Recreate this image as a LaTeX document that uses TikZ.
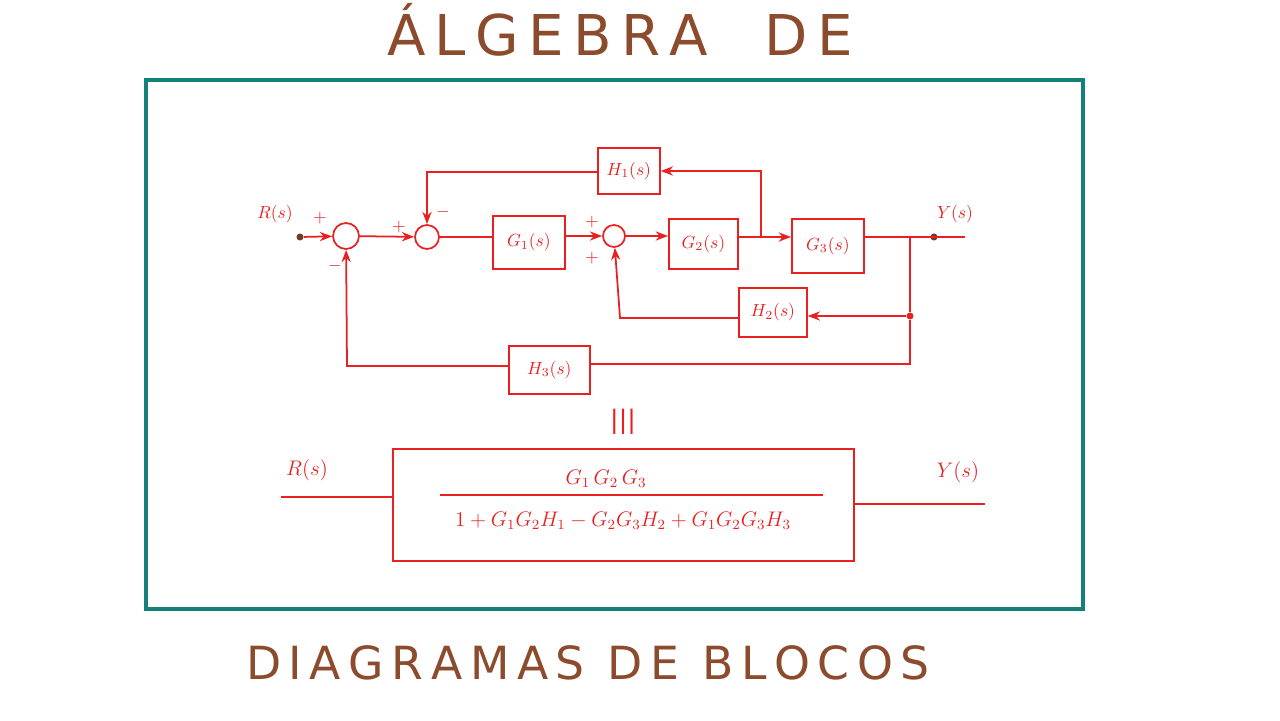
\documentclass[tikz,border=0pt]{standalone}
\usepackage{fontspec}
\setmainfont{DejaVu Sans}
\usetikzlibrary{arrows.meta}
\definecolor{rd}{RGB}{232,32,32}
\definecolor{tl}{RGB}{20,128,120}
\definecolor{br}{RGB}{140,75,45}
\begin{document}
\begin{tikzpicture}[x=0.02cm,y=-0.02cm,
  blk/.style={draw=rd,line width=1pt,text=rd,anchor=north west,inner sep=0pt},
  sum/.style={circle,draw=rd,line width=1pt,inner sep=0pt},
  ln/.style={draw=rd,line width=1pt},
  ar/.style={ln,-{Stealth[length=7pt]}},
  lb/.style={text=rd,font=\normalsize},
  dot/.style={circle,fill=rd,inner sep=0pt,minimum size=4pt}]
\useasboundingbox (0,0) rectangle (1280,720);
\draw[tl,line width=2pt] (146,80) rectangle (1083,609);
\node[text=br,font=\fontsize{32}{32}\selectfont] (t1) at (620,30) {Á\,L\,G\,E\,B\,R\,A\quad D\,E};
\node[text=br,font=\fontsize{26}{26}\selectfont] (t2) at (588,663) {D\,I\,A\,G\,R\,A\,M\,A\,S\enspace D\,E\enspace B\,L\,O\,C\,O\,S};
% blocks
\node[blk,minimum width=1.44cm,minimum height=1.06cm] (g1) at (492,215) {};
\node[lb] at (g1.center) {$G_1(s)$};
\node[blk,minimum width=1.38cm,minimum height=1.0cm] (g2) at (668,218) {};
\node[lb] at (g2.center) {$G_2(s)$};
\node[blk,minimum width=1.44cm,minimum height=1.08cm] (g3) at (791,218) {};
\node[lb] at (g3.center) {$G_3(s)$};
\node[blk,minimum width=1.24cm,minimum height=0.92cm] (h1) at (597,147) {};
\node[lb] at (h1.center) {$H_1(s)$};
\node[blk,minimum width=1.36cm,minimum height=0.98cm] (h2) at (738,287) {};
\node[lb] at (h2.center) {$H_2(s)$};
\node[blk,minimum width=1.62cm,minimum height=0.96cm] (h3) at (508,345) {};
\node[lb] at (h3.center) {$H_3(s)$};
\node[sum,minimum size=0.52cm] (s1) at (346,236) {};
\node[sum,minimum size=0.48cm] (s2) at (427,237) {};
\node[sum,minimum size=0.44cm] (s3) at (614,236) {};
\node[dot,fill=br!80!black] (in) at (300,237) {};
\node[dot,fill=br!80!black] (out) at (934,237) {};
\coordinate (oend) at (965,237);
\coordinate (b1) at (761,237);
\coordinate (b2) at (910,237);
\node[dot] (b3) at (910,316) {};
\node[lb] (rl) at (275,214) {$R(s)$};
\node[lb] (yl) at (955,214) {$Y(s)$};
% forward path
\draw[ar] (in) -- (s1);
\draw[ar] (s1) -- (s2);
\draw[ln] (s2) -- (g1.west |- s2);
\draw[ar] (g1.east |- s3) -- (s3);
\draw[ar] (s3) -- (g2.west |- s3);
\draw[ar] (g2.east |- b1) -- (g3.west |- b1);
\draw[ln] (g3.east |- b2) -- (oend);
% loops
\draw[ar] (b1) -- (761,171) -- (h1.east |- 0,171);
\draw[ar] (h1.west |- 0,172) -- (427,172) -- (s2);
\draw[ln] (b2) -- (b3);
\draw[ar] (b3) -- (h2.east |- b3);
\draw[ar] (h2.west |- 0,318) -- (620,318) -- (s3);
\draw[ln] (b3) -- (910,364) -- (h3.east |- 0,364);
\draw[ar] (h3.west |- 0,366) -- (347,366) -- (s1);
% signs
\node[lb] at (320,218) {$+$};
\node[lb] at (335,266) {$-$};
\node[lb] at (399,227) {$+$};
\node[lb] at (443,212) {$-$};
\node[lb] at (592,222) {$+$};
\node[lb] at (592,258) {$+$};
% equivalence
\node[lb,font=\Large] (eq) at (623,422) {|||};
\node[blk,minimum width=9.22cm,minimum height=2.24cm] (tf) at (392,448) {};
\draw[ln] (440,495) -- (823,495);
\node[lb,font=\large] (num) at (606,479) {$G_1\,G_2\,G_3$};
\node[lb,font=\large] (den) at (623,521) {$1+G_1G_2H_1-G_2G_3H_2+G_1G_2G_3H_3$};
\node[lb,font=\large] (r2) at (307,470) {$R(s)$};
\node[lb,font=\large] (y2) at (958,472) {$Y(s)$};
\coordinate (ri) at (281,497);
\coordinate (yo) at (985,504);
\draw[ln] (ri) -- (tf.west |- ri);
\draw[ln] (tf.east |- yo) -- (yo);
\end{tikzpicture}
\end{document}
